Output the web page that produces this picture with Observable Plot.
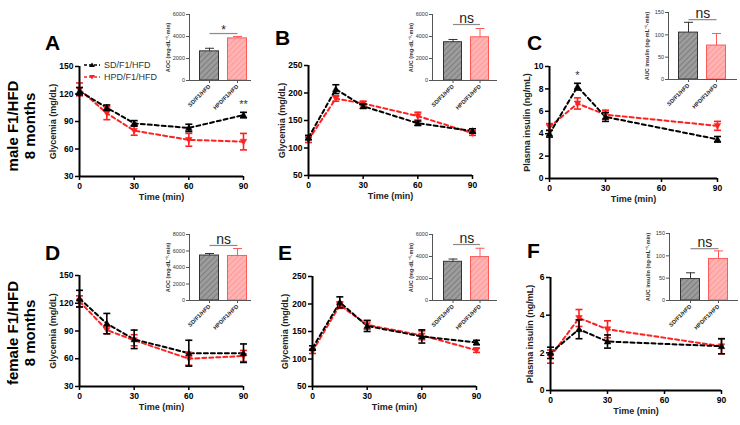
<!DOCTYPE html>
<html><head><meta charset="utf-8">
<script src="https://cdn.jsdelivr.net/npm/d3@7"></script>
<script src="https://cdn.jsdelivr.net/npm/@observablehq/plot@0.6"></script>
<style>
body{margin:0;background:#fff;}
#root{position:relative;width:740px;height:425px;overflow:hidden;background:#fff;font-family:Arial,"Liberation Sans",sans-serif;}
#root svg{position:absolute;background:transparent !important;overflow:visible;}
.letter{position:absolute;font-size:21px;font-weight:bold;line-height:1;color:#000;}
.row{position:absolute;width:160px;height:34px;font-size:15px;font-weight:bold;line-height:17px;text-align:center;transform:rotate(-90deg);color:#000;}
#legend{position:absolute;left:84px;top:59px;font-size:9px;line-height:12px;color:#333;}
#legend div{display:flex;align-items:center;height:12px;}
#legend svg{position:static !important;margin-right:4px;}
</style></head>
<body><div id="root">
<svg width="0" height="0" style="left:0;top:0"><defs>
<pattern id="hg" patternUnits="userSpaceOnUse" width="4" height="4" patternTransform="rotate(45)">
<rect width="4" height="4" fill="#9c9c9c"/><line x1="0" y1="0" x2="0" y2="4" stroke="#707070" stroke-width="1.4"/></pattern>
<pattern id="hr" patternUnits="userSpaceOnUse" width="4" height="4" patternTransform="rotate(45)">
<rect width="4" height="4" fill="#ffb4b4"/><line x1="0" y1="0" x2="0" y2="4" stroke="#ff8c8c" stroke-width="1.4"/></pattern>
</defs></svg>
</div>
<script>
// ---------- data ----------
const T5 = [0, 15, 30, 60, 90];
const T4 = [0, 15, 30, 90];
const groups = ["SD/F1/HFD", "HPD/F1/HFD"];

const aSD = [123, 105, 88, 83, 97], aSDe = [4, 3, 3, 4, 3];
const aHPD = [125, 99, 80, 70, 68], aHPDe = [7, 7, 5, 7, 9];
const bSD = [119, 207, 176, 145, 131], bSDe = [4, 8, 4, 4, 4];
const bHPD = [115, 190, 181, 158, 127], bHPDe = [5, 5, 4, 7, 4];
const cSD = [4.0, 8.2, 5.5, 3.5], cSDe = [0.3, 0.3, 0.4, 0.25];
const cHPD = [4.6, 6.7, 5.7, 4.7], cHPDe = [0.3, 0.5, 0.4, 0.4];
const dSD = [125, 98, 81, 66, 66], dSDe = [9, 11, 10, 14, 10];
const dHPD = [122, 91, 80, 60, 63], dHPDe = [6, 4, 6, 7, 6];
const eSD = [120, 203, 160, 141, 130], eSDe = [4, 10, 10, 12, 4];
const eHPD = [114, 198, 162, 143, 116], eHPDe = [4, 6, 8, 8, 4];
const fSD = [2.0, 3.25, 2.6, 2.35], fSDe = [0.3, 0.5, 0.35, 0.4];
const fHPD = [1.8, 3.85, 3.25, 2.35], fHPDe = [0.35, 0.45, 0.45, 0.4];

const insA = [2650, 3830], insAe = [280, 170];
const insB = [3480, 3930], insBe = [250, 800];
const insC = [105, 76], insCe = [23, 27];
const insD = [5450, 5400], insDe = [250, 900];
const insE = [3520, 3950], insEe = [250, 800];
const insF = [48, 93], insFe = [14, 18];
const sigLevel = [4270, 5090, 134, 6670, 5090, 116];
const sigText = ["*", "ns", "ns", "ns", "ns", "ns"];

const yTicksGly = [30, 60, 90, 120, 150];
const yTicksGly2 = [50, 100, 150, 200, 250];
const yTicksInsC = [0, 2, 4, 6, 8, 10];
const yTicksInsF = [0, 2, 4, 6];
const xTicks = [0, 30, 60, 90];
const aucTicks6 = [0, 2000, 4000, 6000];
const aucTicks8 = [0, 2000, 4000, 6000, 8000];
const insulinTicks = [0, 50, 100, 150];

// ---------- helpers ----------
const RED = "#ff2020";
const root = document.getElementById("root");
const fmt = d => String(d);
const capSym = {draw(ctx, size) { const r = Math.sqrt(size / Math.PI); ctx.moveTo(-r, 0); ctx.lineTo(r, 0); }};
const triUp = {draw(ctx, size) { const r = Math.sqrt(size / Math.PI); ctx.moveTo(0, -r); ctx.lineTo(r, r * 0.75); ctx.lineTo(-r, r * 0.75); ctx.closePath(); }};
const triDown = {draw(ctx, size) { const r = Math.sqrt(size / Math.PI); ctx.moveTo(0, r); ctx.lineTo(r, -r * 0.75); ctx.lineTo(-r, -r * 0.75); ctx.closePath(); }};

function place(svg, left, top) {
  svg.style.left = left + "px"; svg.style.top = top + "px";
  svg.style.background = "transparent";
  root.appendChild(svg);
}

function panel(c) {
  const rows = (vals, errs) => c.t.map((t, i) => ({t, v: vals[i], e: errs[i]}));
  const sets = [[rows(c.hpd, c.hpdE), RED, triDown], [rows(c.sd, c.sdE), "#000", triUp]];
  const marks = [];
  for (const [d, col] of sets)
    marks.push(Plot.line(d, {x: "t", y: "v", stroke: col, strokeWidth: 2, strokeDasharray: "4,3"}));
  for (const [d, col, sym] of sets) {
    marks.push(Plot.ruleX(d, {x: "t", y1: r => r.v - r.e, y2: r => r.v + r.e, stroke: col, strokeWidth: 1.6}));
    marks.push(Plot.dot(d.flatMap(r => [{t: r.t, y: r.v - r.e}, {t: r.t, y: r.v + r.e}]),
      {x: "t", y: "y", symbol: capSym, r: 3.5, stroke: col, strokeWidth: 1.6, fill: "none"}));
    marks.push(Plot.dot(d, {x: "t", y: "v", symbol: sym, r: 3.3, fill: col, stroke: col, strokeWidth: 0.5}));
  }
  if (c.star) marks.push(Plot.text([c.star], {x: r => r.t, y: r => r.v, text: r => r.s, dy: -8, fontSize: 11, fill: "#333"}));
  marks.push(
    Plot.axisY({ticks: c.yTicks, tickFormat: fmt, tickSize: 4, tickPadding: 2, fontSize: 8.5, fontWeight: "bold", strokeWidth: 1.5, label: null}),
    Plot.axisX({ticks: xTicks, tickFormat: fmt, tickSize: 4, tickPadding: 2, fontSize: 8.5, fontWeight: "bold", strokeWidth: 1.5, label: null}),
    Plot.ruleX([0], {stroke: "#000", strokeWidth: 2}),
    Plot.ruleY([c.yDomain[0]], {stroke: "#000", strokeWidth: 2}),
    Plot.text([c.ylabel], {text: d => d, frameAnchor: "left", textAnchor: "middle", rotate: -90, dx: c.ylDx, fontSize: 9, fontWeight: "bold", fill: "#222"}),
    Plot.text(["Time (min)"], {text: d => d, frameAnchor: "bottom", textAnchor: "middle", dy: 23, fontSize: 9, fontWeight: "bold", fill: "#222"})
  );
  const svg = Plot.plot({
    width: c.w, height: c.h, marginLeft: c.mL, marginRight: c.mR, marginTop: c.mT, marginBottom: c.mB,
    style: {fontFamily: "Arial, 'Liberation Sans', sans-serif", color: "#000", background: "transparent", overflow: "visible"},
    x: {domain: [0, 90]}, y: {domain: c.yDomain},
    marks
  });
  place(svg, c.left, c.top);
}

function inset(c) {
  const left = c.axisX - 40, top = c.yTop - 14;
  const width = c.right - left, height = c.y0 - top + 50;
  const data = groups.map((g, i) => ({g, v: c.vals[i], e: c.errs[i]}));
  const fills = ["url(#hg)", "url(#hr)"], strokes = ["#333", "#ff5a5a"];
  const marks = [];
  data.forEach((d, i) => {
    marks.push(Plot.barY([d], {x: "g", y: "v", fill: fills[i], stroke: strokes[i], strokeWidth: 1, insetLeft: 0.5, insetRight: 0.5}));
    marks.push(Plot.ruleX([d], {x: "g", y1: "v", y2: r => r.v + r.e, stroke: strokes[i], strokeWidth: 1}));
    marks.push(Plot.dot([d], {x: "g", y: r => r.v + r.e, symbol: capSym, r: 4.5, stroke: strokes[i], strokeWidth: 1, fill: "none"}));
  });
  const step = (c.barR - c.barL) / 1.7;
  marks.push(
    Plot.link([c.sig], {x1: () => groups[0], x2: () => groups[1], y1: d => d, y2: d => d, stroke: "#8a8a8a", strokeWidth: 1.2}),
    Plot.text([c.sigText], {text: d => d, x: () => groups[0], y: () => c.sig, dx: step / 2, dy: c.sigText === "*" ? -3 : -6, fontSize: c.sigText === "*" ? 12 : 14, fill: "#222"}),
    Plot.ruleY([0], {stroke: "#555", strokeWidth: 1}),
    Plot.frame({anchor: "left", stroke: "#555", strokeWidth: 1}),
    Plot.axisY({ticks: c.yTicks, tickFormat: fmt, tickSize: 3, tickPadding: 1.5, fontSize: 5.5, stroke: "#555", fill: "#333", label: null}),
    Plot.axisX({tickSize: 3, tickRotate: -45, tickPadding: 2, fontSize: 5.6, fontWeight: "bold", stroke: "#555", fill: "#222", label: null}),
    Plot.text([c.label], {text: d => d, frameAnchor: "left", textAnchor: "middle", rotate: -90, dx: -21, fontSize: 5.5, fontWeight: "bold", fill: "#333"})
  );
  const svg = Plot.plot({
    width, height, marginLeft: 40, marginRight: 0, marginTop: 14, marginBottom: 50,
    style: {fontFamily: "Arial, 'Liberation Sans', sans-serif", background: "transparent", overflow: "visible"},
    x: {type: "band", domain: groups, range: [c.barL - left, c.barR - left], paddingInner: 0.3, paddingOuter: 0},
    y: {domain: c.yDomain},
    marks
  });
  place(svg, left, top);
}

// ---------- main panels ----------
const glyLab = "Glycemia (mg/dL)", insLab = "Plasma insulin (ng/mL)";
panel({left: 0, top: 0, w: 250, h: 210, mL: 79, mR: 7, mT: 66, mB: 34, t: T5, sd: aSD, sdE: aSDe, hpd: aHPD, hpdE: aHPDe,
  yDomain: [30, 150], yTicks: yTicksGly, ylabel: glyLab, ylDx: -26, star: {t: T5[4], v: aSD[4] + aSDe[4], s: "**"}});
panel({left: 240, top: 0, w: 250, h: 210, mL: 68, mR: 18, mT: 65, mB: 35, t: T5, sd: bSD, sdE: bSDe, hpd: bHPD, hpdE: bHPDe,
  yDomain: [50, 250], yTicks: yTicksGly2, ylabel: glyLab, ylDx: -26});
panel({left: 490, top: 0, w: 250, h: 210, mL: 59, mR: 23, mT: 66, mB: 32, t: T4, sd: cSD, sdE: cSDe, hpd: cHPD, hpdE: cHPDe,
  yDomain: [0, 10], yTicks: yTicksInsC, ylabel: insLab, ylDx: -22, star: {t: T4[1], v: cSD[1] + cSDe[1], s: "*"}});
panel({left: 0, top: 210, w: 250, h: 215, mL: 79, mR: 7, mT: 65, mB: 39, t: T5, sd: dSD, sdE: dSDe, hpd: dHPD, hpdE: dHPDe,
  yDomain: [30, 150], yTicks: yTicksGly, ylabel: glyLab, ylDx: -26});
panel({left: 240, top: 210, w: 250, h: 215, mL: 72, mR: 14, mT: 66, mB: 39, t: T5, sd: eSD, sdE: eSDe, hpd: eHPD, hpdE: eHPDe,
  yDomain: [50, 250], yTicks: yTicksGly2, ylabel: glyLab, ylDx: -27});
panel({left: 490, top: 210, w: 250, h: 215, mL: 60, mR: 19, mT: 67, mB: 35, t: T4, sd: fSD, sdE: fSDe, hpd: fHPD, hpdE: fHPDe,
  yDomain: [0, 6], yTicks: yTicksInsF, ylabel: insLab, ylDx: -20});

// ---------- insets ----------
const aocLab = "AOC (mg·dL⁻¹·min)", aucLab = "AUC (mg·dL⁻¹·min)", aucInsLab = "AUC insulin (ng·mL⁻¹·min)";
inset({axisX: 189, yTop: 14, y0: 80, barL: 199, barR: 247, right: 251, vals: insA, errs: insAe, yDomain: [0, 6000], yTicks: aucTicks6, label: aocLab, sig: sigLevel[0], sigText: sigText[0]});
inset({axisX: 432, yTop: 14, y0: 80, barL: 443, barR: 489, right: 497, vals: insB, errs: insBe, yDomain: [0, 6000], yTicks: aucTicks6, label: aucLab, sig: sigLevel[1], sigText: sigText[1]});
inset({axisX: 668, yTop: 12, y0: 79, barL: 677, barR: 726, right: 737, vals: insC, errs: insCe, yDomain: [0, 150], yTicks: insulinTicks, label: aucInsLab, sig: sigLevel[2], sigText: sigText[2]});
inset({axisX: 189, yTop: 234, y0: 300, barL: 199, barR: 247, right: 251, vals: insD, errs: insDe, yDomain: [0, 8000], yTicks: aucTicks8, label: aocLab, sig: sigLevel[3], sigText: sigText[3]});
inset({axisX: 432, yTop: 234, y0: 300, barL: 442, barR: 489, right: 497, vals: insE, errs: insEe, yDomain: [0, 6000], yTicks: aucTicks6, label: aucLab, sig: sigLevel[4], sigText: sigText[4]});
inset({axisX: 669, yTop: 233, y0: 300, barL: 679, barR: 728, right: 738, vals: insF, errs: insFe, yDomain: [0, 150], yTicks: insulinTicks, label: aucInsLab, sig: sigLevel[5], sigText: sigText[5]});

// ---------- text labels ----------
const letters = [["A", 45, 32], ["B", 275, 27], ["C", 527, 32], ["D", 45, 242], ["E", 278, 242], ["F", 527, 240]];
for (const [s, x, y] of letters) {
  const el = document.createElement("div"); el.className = "letter"; el.textContent = s;
  el.style.left = x + "px"; el.style.top = y + "px"; root.appendChild(el);
}
const rowLabels = [["male F1/HFD", "8 months", 126], ["female F1/HFD", "8 months", 333]];
for (const [l1, l2, cy] of rowLabels) {
  const el = document.createElement("div"); el.className = "row";
  el.innerHTML = l1 + "<br>" + l2;
  el.style.left = (21 - 80) + "px"; el.style.top = (cy - 17) + "px"; root.appendChild(el);
}
const legend = document.createElement("div"); legend.id = "legend";
[[groups[0], "#000", "M8,1.5 L11,6 L5,6 Z"], [groups[1], RED, "M8,6.5 L11,2 L5,2 Z"]].forEach(([name, col, tri]) => {
  const row = document.createElement("div");
  row.innerHTML = `<svg width="16" height="8"><line x1="0" y1="4" x2="16" y2="4" stroke="${col}" stroke-width="1.6" stroke-dasharray="3,2"/><path d="${tri}" fill="${col}"/></svg><span>${name}</span>`;
  legend.appendChild(row);
});
root.appendChild(legend);
</script>
</body></html>
